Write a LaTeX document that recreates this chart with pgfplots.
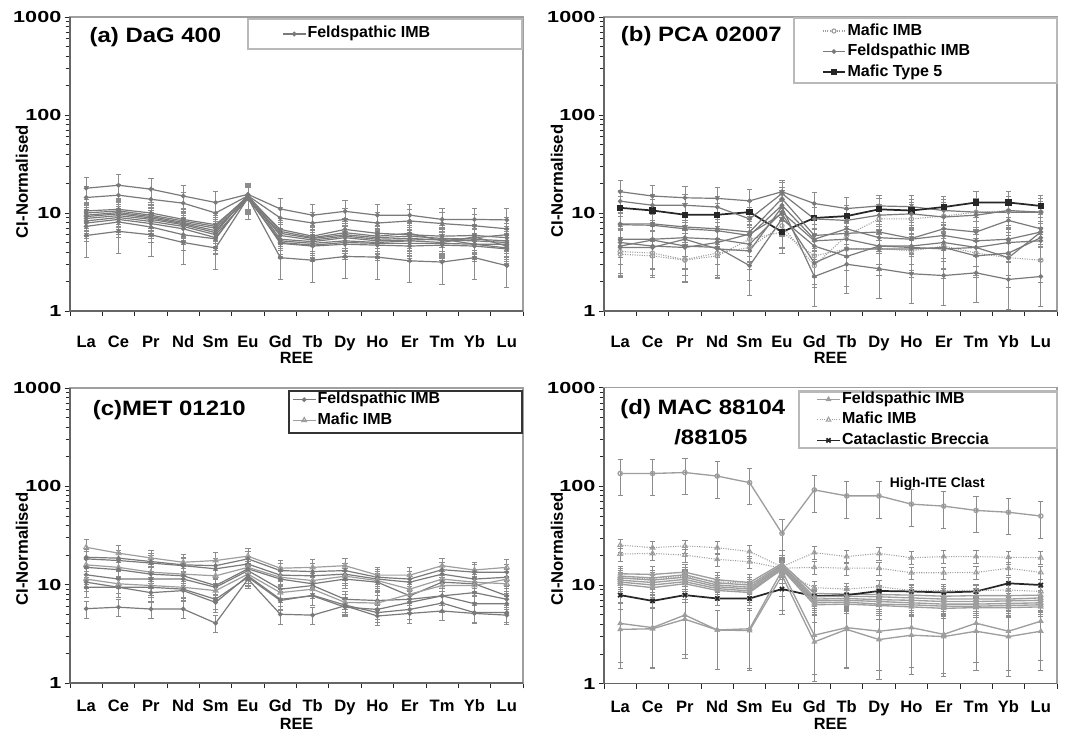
\documentclass[border=0pt]{standalone}
\usepackage{pgfplots}
\pgfplotsset{compat=1.18}
\usepackage{fontspec}
\setmainfont{Liberation Sans}
\newfontfamily\titlefont[FakeStretch=1.15]{Liberation Sans}
\newfontfamily\yfont[FakeStretch=1.35]{Liberation Sans}
\definecolor{feldc}{gray}{0.48}
\definecolor{feldd}{gray}{0.62}
\definecolor{mafc}{gray}{0.62}
\definecolor{errc}{gray}{0.55}
\pgfplotsset{
  errs/.style={error bars/y dir=both, error bars/y fixed relative=#1,
    error bars/error bar style={errc, line width=0.5pt, solid},
    error bars/error mark options={rotate=90, mark size=2pt, errc, solid}},
  feld/.style={color=feldc, line width=0.9pt, mark=*, mark size=1.3pt, mark options={fill=feldc}, errs=#1},
  feld/.default=0.3,
  feldD/.style={color=feldd, line width=1pt, mark=triangle*, mark size=1.6pt, mark options={fill=feldd}, errs=#1},
  feldD/.default=0.2,
  mafic/.style={color=mafc, line width=0.8pt, densely dotted, mark=triangle, mark size=2pt, mark options={solid, fill=white}, errs=#1},
  mafic/.default=0.3,
  maficO/.style={color=mafc, line width=0.8pt, densely dotted, mark=o, mark size=1.6pt, mark options={solid, fill=white}, errs=#1},
  maficO/.default=0.3,
  maficS/.style={color=mafc, line width=0.9pt, mark=triangle, mark size=2pt, mark options={fill=white}, errs=#1},
  maficS/.default=0.2,
  type5/.style={color=black!85, line width=1.3pt, mark=square*, mark size=1.7pt, errs=#1},
  type5/.default=0.3,
  breccia/.style={color=black!85, line width=1.3pt, mark=x, mark size=2.2pt, errs=#1},
  breccia/.default=0.2,
}
\begin{document}
\begin{tikzpicture}
\useasboundingbox (0,0) rectangle (801pt,549.75pt);
% ---------------- (a)
\begin{axis}[at={(52.5pt,316.5pt)}, anchor=south west,
    scale only axis, width=339.75pt, height=220.5pt, clip=false,
    ymode=log, ymin=1, ymax=1000, xmin=-0.5, xmax=13.5,
    xtick={-0.5,0.5,...,13.5}, x tick label as interval,
    xticklabels={La,Ce,Pr,Nd,Sm,Eu,Gd,Tb,Dy,Ho,Er,Tm,Yb,Lu},
    ytick={1,10,100,1000}, yticklabels={1,10,100,1000},
    xtick pos=left, ytick pos=left,
    tick style={gray!30!black, line width=0.6pt},
    tick align=outside, major tick length=4pt, minor tick length=3pt,
    axis line style={gray!75, line width=1pt},
    xticklabel style={font=\fontsize{12.4}{14}\selectfont\bfseries, inner sep=1pt, yshift=-13pt, text height=9pt, text depth=0pt},
    yticklabel style={font=\yfont\fontsize{12}{14}\selectfont\bfseries, xshift=1pt},
    xlabel={REE}, ylabel={CI-Normalised},
    xlabel style={font=\fontsize{12.2}{14}\selectfont\bfseries, inner sep=1pt, at={(axis description cs:0.5,0)}, anchor=center, yshift=-35pt},
    ylabel style={font=\fontsize{12.5}{14}\selectfont\bfseries, at={(axis description cs:-0.106,0.44)}, anchor=center},
    legend style={draw=none, fill=none, inner sep=0pt, anchor=north west,
      font=\fontsize{12}{14}\selectfont\bfseries, row sep=1.4pt,
      nodes={inner sep=1pt, text height=9pt, text depth=3pt},
      at={(axis description cs:0.468,0.975)}},
    legend cell align=left]
\addplot[feld] coordinates {(0,17.9)(1,19.2)(2,17.5)(3,14.9)(4,12.8)(5,15.5)(6,11)(7,9.5)(8,10.4)(9,9.5)(10,9.5)(11,8.6)(12,8.6)(13,8.5)};
\addlegendentry{Feldspathic IMB}
\addplot[feld,forget plot] coordinates {(0,14.4)(1,15.2)(2,13.8)(3,12.6)(4,10)(5,15)(6,8.9)(7,7.9)(8,8.6)(9,7.9)(10,8.3)(11,7.8)(12,7.4)(13,6.9)};
\addplot[feld,forget plot] coordinates {(0,10.5)(1,10.9)(2,10)(3,8.6)(4,7.6)(5,14.5)(6,6.8)(7,5.8)(8,6.8)(9,6.2)(10,6.0)(11,5.8)(12,5.9)(13,5.6)};
\addplot[feld,forget plot] coordinates {(0,10)(1,10.5)(2,9.5)(3,8.3)(4,7.3)(5,15)(6,6.5)(7,5.6)(8,6.3)(9,5.8)(10,6.2)(11,5.2)(12,5.6)(13,6.0)};
\addplot[feld,forget plot] coordinates {(0,9.5)(1,10.1)(2,9.2)(3,8)(4,7)(5,14.2)(6,6.2)(7,5.5)(8,6.0)(9,5.6)(10,5.8)(11,5.5)(12,5.4)(13,5.2)};
\addplot[feld,forget plot] coordinates {(0,9.2)(1,9.8)(2,8.9)(3,7.8)(4,6.6)(5,14.8)(6,5.9)(7,5.3)(8,5.8)(9,5.4)(10,5.5)(11,5.3)(12,5.2)(13,5.0)};
\addplot[feld,forget plot] coordinates {(0,8.8)(1,9.4)(2,8.6)(3,7.6)(4,6.3)(5,15.3)(6,5.4)(7,5.1)(8,5.6)(9,5.2)(10,5.3)(11,5.4)(12,4.8)(13,4.8)};
\addplot[feld,forget plot] coordinates {(0,8.3)(1,9)(2,8.2)(3,7.3)(4,6.0)(5,14)(6,5.2)(7,4.9)(8,5.2)(9,5.0)(10,5.2)(11,5.0)(12,5.7)(13,4.6)};
\addplot[feld,forget plot] coordinates {(0,7.9)(1,8.6)(2,7.8)(3,6.9)(4,5.6)(5,14.6)(6,5.0)(7,4.7)(8,5.0)(9,4.9)(10,4.9)(11,4.9)(12,4.8)(13,4.4)};
\addplot[feld,forget plot] coordinates {(0,7.3)(1,8.1)(2,7.2)(3,6.0)(4,5.45)(5,15)(6,4.9)(7,4.6)(8,4.8)(9,4.7)(10,4.6)(11,4.7)(12,4.6)(13,4.3)};
\addplot[feld=0.4,forget plot] coordinates {(0,5.9)(1,6.5)(2,6.0)(3,5.0)(4,4.4)(5,14.3)(6,3.5)(7,3.3)(8,3.6)(9,3.55)(10,3.25)(11,3.16)(12,3.5)(13,2.9)};
\draw[black!60, line width=1pt] (rel axis cs:0,1) -- (rel axis cs:0,0) -- (rel axis cs:1,0);
\draw[gray!55, line width=1.6pt] (axis description cs:0.393,0.891) rectangle (axis description cs:0.998,0.993);
\node[anchor=west, font=\titlefont\fontsize{15.6}{17}\selectfont\bfseries] at (axis description cs:0.033,0.932) {(a) DaG 400};
\end{axis}
% ---------------- (b)
\begin{axis}[at={(453pt,316.5pt)}, anchor=south west,
    scale only axis, width=339.75pt, height=220.5pt, clip=false,
    ymode=log, ymin=1, ymax=1000, xmin=-0.5, xmax=13.5,
    xtick={-0.5,0.5,...,13.5}, x tick label as interval,
    xticklabels={La,Ce,Pr,Nd,Sm,Eu,Gd,Tb,Dy,Ho,Er,Tm,Yb,Lu},
    ytick={1,10,100,1000}, yticklabels={1,10,100,1000},
    xtick pos=left, ytick pos=left,
    tick style={gray!30!black, line width=0.6pt},
    tick align=outside, major tick length=4pt, minor tick length=3pt,
    axis line style={gray!75, line width=1pt},
    xticklabel style={font=\fontsize{12.4}{14}\selectfont\bfseries, inner sep=1pt, yshift=-13pt, text height=9pt, text depth=0pt},
    yticklabel style={font=\yfont\fontsize{12}{14}\selectfont\bfseries, xshift=1pt},
    xlabel={REE}, ylabel={CI-Normalised},
    xlabel style={font=\fontsize{12.2}{14}\selectfont\bfseries, inner sep=1pt, at={(axis description cs:0.5,0)}, anchor=center, yshift=-35pt},
    ylabel style={font=\fontsize{12.5}{14}\selectfont\bfseries, at={(axis description cs:-0.104,0.442)}, anchor=center},
    legend style={draw=none, fill=none, inner sep=0pt, anchor=north west,
      font=\fontsize{12}{14}\selectfont\bfseries, row sep=1.4pt,
      nodes={inner sep=1pt, text height=9pt, text depth=3pt},
      at={(axis description cs:0.48,0.985)}},
    legend cell align=left]
\addplot[maficO=0.4] coordinates {(0,3.8)(1,3.65)(2,3.3)(3,3.65)(4,5.4)(5,6.4)(6,3.65)(7,4.3)(8,4.35)(9,4.1)(10,4.6)(11,3.9)(12,3.5)(13,3.3)};
\addlegendentry{Mafic IMB}
\addplot[feld=0.3] coordinates {(0,16.5)(1,14.9)(2,14.3)(3,14.1)(4,13.3)(5,16.5)(6,12.5)(7,11.1)(8,11.8)(9,11.6)(10,10.6)(11,10.2)(12,10.2)(13,10.2)};
\addlegendentry{Feldspathic IMB}
\addplot[type5=0.3] coordinates {(0,11.3)(1,10.6)(2,9.6)(3,9.6)(4,10.2)(5,6.4)(6,8.9)(7,9.3)(8,10.9)(9,10.6)(10,11.5)(11,12.8)(12,12.8)(13,11.8)};
\addlegendentry{Mafic Type 5}
\addplot[maficO=0.4,forget plot] coordinates {(0,4.05)(1,3.9)(2,3.35)(3,3.9)(4,4.45)(5,7.4)(6,2.9)(7,5.9)(8,8.7)(9,8.7)(10,9.3)(11,10.2)(12,10.5)(13,10.2)};
\addplot[feld=0.3,forget plot] coordinates {(0,13.2)(1,12)(2,12)(3,11.5)(4,8.7)(5,15.8)(6,8.7)(7,8.4)(8,9.5)(9,9.8)(10,9.1)(11,9.5)(12,10.6)(13,10.2)};
\addplot[feld=0.3,forget plot] coordinates {(0,7.75)(1,7.75)(2,7.2)(3,6.9)(4,6.4)(5,14)(6,5.9)(7,6.2)(8,6.4)(9,5.5)(10,6.9)(11,6.4)(12,8.4)(13,6.9)};
\addplot[feld=0.3,forget plot] coordinates {(0,7.6)(1,7.5)(2,6.9)(3,6.6)(4,5.9)(5,12)(6,5.4)(7,6.9)(8,5.6)(9,5.4)(10,5.9)(11,5.2)(12,5.4)(13,6.4)};
\addplot[feld=0.35,forget plot] coordinates {(0,5.4)(1,5.4)(2,5.6)(3,5.4)(4,4.8)(5,10.2)(6,5.2)(7,5.4)(8,4.6)(9,4.6)(10,5.0)(11,4.45)(12,5)(13,5.2)};
\addplot[feld=0.5,forget plot] coordinates {(0,4.6)(1,5.3)(2,4.6)(3,4.45)(4,2.9)(5,8.7)(6,4.6)(7,3.6)(8,4.6)(9,4.45)(10,4.3)(11,4.45)(12,3.5)(13,6.4)};
\addplot[feld=0.5,forget plot] coordinates {(0,4.45)(1,4.45)(2,5.4)(3,4.3)(4,4.1)(5,11.5)(6,2.25)(7,3.0)(8,2.7)(9,2.4)(10,2.3)(11,2.45)(12,2.1)(13,2.25)};
\addplot[feld=0.4,forget plot] coordinates {(0,5.0)(1,4.6)(2,4.45)(3,5)(4,6.1)(5,9.8)(6,3.1)(7,4.3)(8,4.3)(9,4.3)(10,4.45)(11,3.65)(12,3.9)(13,5.6)};
\draw[black!60, line width=1pt] (rel axis cs:0,1) -- (rel axis cs:0,0) -- (rel axis cs:1,0);
\draw[gray!55, line width=1.6pt] (axis description cs:0.42,0.776) rectangle (axis description cs:1.0,0.997);
\node[anchor=west, font=\titlefont\fontsize{15.6}{17}\selectfont\bfseries] at (axis description cs:0.027,0.936) {(b) PCA 02007};
\end{axis}
% ---------------- (c)
\begin{axis}[at={(52.5pt,37.5pt)}, anchor=south west,
    scale only axis, width=339.75pt, height=221.25pt, clip=false,
    ymode=log, ymin=1, ymax=1000, xmin=-0.5, xmax=13.5,
    xtick={-0.5,0.5,...,13.5}, x tick label as interval,
    xticklabels={La,Ce,Pr,Nd,Sm,Eu,Gd,Tb,Dy,Ho,Er,Tm,Yb,Lu},
    ytick={1,10,100,1000}, yticklabels={1,10,100,1000},
    xtick pos=left, ytick pos=left,
    tick style={gray!30!black, line width=0.6pt},
    tick align=outside, major tick length=4pt, minor tick length=3pt,
    axis line style={gray!75, line width=1pt},
    xticklabel style={font=\fontsize{12.4}{14}\selectfont\bfseries, inner sep=1pt, yshift=-7.5pt, text height=9pt, text depth=0pt},
    yticklabel style={font=\yfont\fontsize{12}{14}\selectfont\bfseries, xshift=1pt},
    xlabel={REE}, ylabel={CI-Normalised},
    xlabel style={font=\fontsize{12.2}{14}\selectfont\bfseries, inner sep=1pt, at={(axis description cs:0.5,0)}, anchor=center, yshift=-30.5pt},
    ylabel style={font=\fontsize{12.5}{14}\selectfont\bfseries, at={(axis description cs:-0.106,0.454)}, anchor=center},
    legend style={draw=none, fill=none, inner sep=0pt, anchor=north west,
      font=\fontsize{12}{14}\selectfont\bfseries, row sep=1.4pt,
      nodes={inner sep=1pt, text height=9pt, text depth=3pt},
      at={(axis description cs:0.49,0.993)}},
    legend cell align=left]
\addplot[feld=0.2] coordinates {(0,18.3)(1,17.6)(2,16.6)(3,15.6)(4,14.5)(5,16.2)(6,12.5)(7,12.3)(8,12.8)(9,11.4)(10,10.6)(11,12.8)(12,11.4)(13,11.9)};
\addlegendentry{Feldspathic IMB}
\addplot[maficS=0.2] coordinates {(0,24)(1,20.9)(2,18.7)(3,16.9)(4,17.6)(5,19.5)(6,14.7)(7,15.0)(8,15.6)(9,12.5)(10,12.5)(11,15.6)(12,14.1)(13,15.0)};
\addlegendentry{Mafic IMB}
\addplot[feld=0.2,forget plot] coordinates {(0,19.0)(1,18.6)(2,17.2)(3,15.9)(4,15.6)(5,18.3)(6,13.9)(7,13.6)(8,13.9)(9,11.9)(10,11.4)(11,14.2)(12,13.4)(13,13.4)};
\addplot[maficS=0.2,forget plot] coordinates {(0,15.9)(1,15.0)(2,13.4)(3,12.8)(4,12.3)(5,15.0)(6,11.9)(7,11.0)(8,12.2)(9,11.0)(10,9.0)(11,11.4)(12,10.6)(13,10.2)};
\addplot[feld=0.2,forget plot] coordinates {(0,15.0)(1,14.2)(2,12.8)(3,12.3)(4,9.8)(5,14.5)(6,11.4)(7,10.2)(8,11.4)(9,10.6)(10,7.7)(11,10.6)(12,10.2)(13,7.7)};
\addplot[feld=0.2,forget plot] coordinates {(0,12.6)(1,11.4)(2,11.4)(3,11.4)(4,9.4)(5,13.9)(6,9.0)(7,9.8)(8,7.1)(9,6.9)(10,7.1)(11,7.7)(12,6.4)(13,6.4)};
\addplot[maficS=0.2,forget plot] coordinates {(0,11.4)(1,10.2)(2,9.8)(3,9.4)(4,8.7)(5,12.8)(6,8.3)(7,9.0)(8,6.6)(9,6.5)(10,8.0)(11,9.8)(12,9.8)(13,11.4)};
\addplot[feld=0.2,forget plot] coordinates {(0,10.6)(1,9.4)(2,8.3)(3,8.7)(4,6.6)(5,12.3)(6,7.1)(7,7.7)(8,5.9)(9,5.6)(10,6.6)(11,7.7)(12,8.3)(13,7.1)};
\addplot[feld=0.2,forget plot] coordinates {(0,9.4)(1,9.4)(2,9.4)(3,9.0)(4,7.1)(5,11.9)(6,6.9)(7,7.8)(8,6.2)(9,5.2)(10,5.6)(11,6.5)(12,5.2)(13,5.2)};
\addplot[feld=0.2,forget plot] coordinates {(0,5.7)(1,5.9)(2,5.65)(3,5.65)(4,4.06)(5,11.4)(6,5.0)(7,4.9)(8,6.1)(9,4.8)(10,5.1)(11,5.4)(12,5.1)(13,4.9)};
\draw[black!60, line width=1pt] (rel axis cs:0,1) -- (rel axis cs:0,0) -- (rel axis cs:1,0);
\draw[black!80, line width=1.6pt] (axis description cs:0.483,0.847) rectangle (axis description cs:0.998,0.99);
\node[anchor=west, font=\titlefont\fontsize{15.6}{17}\selectfont\bfseries] at (axis description cs:0.04,0.926) {(c)MET 01210};
\end{axis}
% ---------------- (d)
\begin{axis}[at={(453pt,37pt)}, anchor=south west,
    scale only axis, width=339.75pt, height=222pt, clip=false,
    ymode=log, ymin=1, ymax=1000, xmin=-0.5, xmax=13.5,
    xtick={-0.5,0.5,...,13.5}, x tick label as interval,
    xticklabels={La,Ce,Pr,Nd,Sm,Eu,Gd,Tb,Dy,Ho,Er,Tm,Yb,Lu},
    ytick={1,10,100,1000}, yticklabels={1,10,100,1000},
    xtick pos=left, ytick pos=left,
    tick style={gray!30!black, line width=0.6pt},
    tick align=outside, major tick length=4pt, minor tick length=3pt,
    axis line style={gray!75, line width=1pt},
    xticklabel style={font=\fontsize{12.4}{14}\selectfont\bfseries, inner sep=1pt, yshift=-7.5pt, text height=9pt, text depth=0pt},
    yticklabel style={font=\yfont\fontsize{12}{14}\selectfont\bfseries, xshift=1pt},
    xlabel={REE}, ylabel={CI-Normalised},
    xlabel style={font=\fontsize{12.2}{14}\selectfont\bfseries, inner sep=1pt, at={(axis description cs:0.5,0)}, anchor=center, yshift=-30pt},
    ylabel style={font=\fontsize{12.5}{14}\selectfont\bfseries, at={(axis description cs:-0.104,0.455)}, anchor=center},
    legend style={draw=none, fill=none, inner sep=0pt, anchor=north west,
      font=\fontsize{12}{14}\selectfont\bfseries, row sep=1.4pt,
      nodes={inner sep=1pt, text height=9pt, text depth=3pt},
      at={(axis description cs:0.468,0.993)}},
    legend cell align=left]
\addplot[feldD=0.2] coordinates {(0,13)(1,12.8)(2,13.5)(3,11.3)(4,10.6)(5,16.5)(6,8.2)(7,8.1)(8,8.0)(9,7.9)(10,7.7)(11,7.8)(12,7.8)(13,7.9)};
\addlegendentry{Feldspathic IMB}
\addplot[mafic=0.15] coordinates {(0,25.4)(1,23.9)(2,24.9)(3,23.9)(4,21.8)(5,15.3)(6,21.3)(7,19.4)(8,20.9)(9,18.9)(10,19.4)(11,19.4)(12,19.1)(13,18.9)};
\addlegendentry{Mafic IMB}
\addplot[breccia=0.15] coordinates {(0,7.9)(1,6.9)(2,7.9)(3,7.3)(4,7.3)(5,9.1)(6,7.7)(7,7.9)(8,8.7)(9,8.6)(10,8.4)(11,8.6)(12,10.4)(13,10)};
\addlegendentry{Cataclastic Breccia}
\addplot[feldD=0.4,forget plot,mark=o,mark options={fill=white}] coordinates {(0,135)(1,135)(2,138)(3,127)(4,109)(5,33.4)(6,92)(7,80)(8,80)(9,66)(10,63)(11,57)(12,54.6)(13,50)};
\addplot[mafic=0.15,forget plot] coordinates {(0,20.6)(1,20.9)(2,20.1)(3,18.2)(4,17.2)(5,14.8)(6,15.1)(7,14.8)(8,14.8)(9,13.3)(10,13.3)(11,13.4)(12,14.8)(13,13.4)};
\addplot[mafic=0.15,forget plot] coordinates {(0,11.7)(1,11.7)(2,12.2)(3,10.8)(4,10.4)(5,13.6)(6,9.4)(7,9.1)(8,9.6)(9,8.8)(10,8.8)(11,8.8)(12,8.9)(13,8.6)};
\addplot[feldD=0.2,forget plot] coordinates {(0,12.3)(1,11.8)(2,12.7)(3,10.5)(4,10.0)(5,16)(6,7.6)(7,7.7)(8,7.6)(9,7.4)(10,7.2)(11,7.2)(12,7.2)(13,7.4)};
\addplot[feldD=0.2,forget plot] coordinates {(0,11.8)(1,11.2)(2,12.0)(3,10)(4,9.5)(5,15.6)(6,7.2)(7,7.3)(8,7.1)(9,7.0)(10,6.8)(11,6.8)(12,6.9)(13,7.0)};
\addplot[feldD=0.2,forget plot] coordinates {(0,11.2)(1,10.6)(2,11.4)(3,9.6)(4,9.1)(5,15.2)(6,6.9)(7,7.0)(8,6.8)(9,6.6)(10,6.4)(11,6.4)(12,6.5)(13,6.6)};
\addplot[feldD=0.2,forget plot] coordinates {(0,10.7)(1,10)(2,10.8)(3,9.2)(4,8.7)(5,14.8)(6,6.6)(7,6.7)(8,6.4)(9,6.3)(10,6.1)(11,6.1)(12,6.2)(13,6.3)};
\addplot[feldD=0.2,forget plot] coordinates {(0,10.2)(1,9.4)(2,10.3)(3,8.8)(4,8.4)(5,14.4)(6,6.3)(7,6.4)(8,6.2)(9,6.0)(10,5.8)(11,5.9)(12,5.9)(13,6.0)};
\addplot[feldD=0.6,forget plot] coordinates {(0,4.08)(1,3.7)(2,4.96)(3,3.5)(4,3.6)(5,14)(6,3.1)(7,3.7)(8,3.4)(9,3.7)(10,3.16)(11,4.1)(12,3.4)(13,4.3)};
\addplot[feldD=0.6,forget plot] coordinates {(0,3.55)(1,3.6)(2,4.5)(3,3.5)(4,3.45)(5,12.5)(6,2.65)(7,3.55)(8,2.8)(9,3.1)(10,3.0)(11,3.4)(12,3.0)(13,3.4)};
\draw[black!60, line width=1pt] (rel axis cs:0,1) -- (rel axis cs:0,0) -- (rel axis cs:1,0);
\draw[gray!55, line width=1.6pt] (axis description cs:0.43,0.795) rectangle (axis description cs:1.0,0.987);
\node[anchor=west, font=\titlefont\fontsize{15.6}{17}\selectfont\bfseries] at (axis description cs:0.026,0.927) {(d) MAC 88104};
\node[anchor=center, font=\titlefont\fontsize{15.6}{17}\selectfont\bfseries] at (axis description cs:0.236,0.832) {/88105};
\node[font=\fontsize{10.4}{12}\selectfont\bfseries] at (axis cs:9.8,106) {High-ITE Clast};
\end{axis}
\end{tikzpicture}
\end{document}
